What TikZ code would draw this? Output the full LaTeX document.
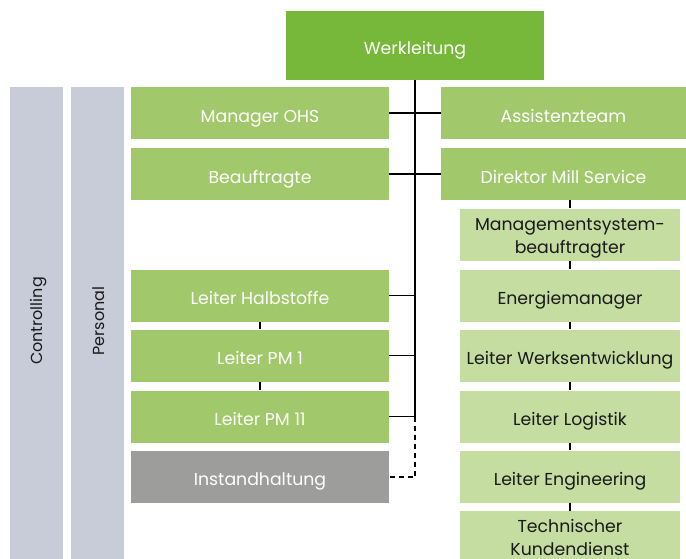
\documentclass[tikz,border=0pt]{standalone}
\usepackage{fontspec}
\setmainfont{Poppins}
\definecolor{topgreen}{HTML}{77B739}
\definecolor{midgreen}{HTML}{A1C96B}
\definecolor{palegreen}{HTML}{C5DDA1}
\definecolor{greybox}{HTML}{9D9D9B}
\definecolor{staffcol}{HTML}{C8CCD9}
\definecolor{inktext}{HTML}{1A1A1A}
\tikzset{
  orgbox/.style={rectangle, inner sep=0pt, align=center, font=\fontsize{17.3}{22.6}\selectfont,
    text height=19pt, text depth=1pt},
  twolines/.style={text height=38pt, text depth=1pt},
  headbox/.style={orgbox, fill=topgreen, text=white, minimum width=258pt, minimum height=69pt},
  leftbox/.style={orgbox, fill=midgreen, text=white, minimum width=258pt, minimum height=52pt},
  rightbox/.style={orgbox, fill=midgreen, text=white, minimum width=245pt, minimum height=52pt},
  subbox/.style={orgbox, fill=palegreen, text=inktext, minimum width=220pt, minimum height=52pt},
  greyunit/.style={orgbox, fill=greybox, text=white, minimum width=258pt, minimum height=52pt},
  staffbar/.style={rectangle, fill=staffcol, inner sep=0pt, minimum width=53pt, minimum height=480pt},
  stafftext/.style={text=inktext, rotate=90, font=\fontsize{16}{18}\selectfont},
  link/.style={line width=1.2pt, black},
  dashlink/.style={line width=1.2pt, black, dash pattern=on 5pt off 4pt}
}
\begin{document}
\begin{tikzpicture}[x=1pt,y=-1pt]
\useasboundingbox (0,0) rectangle (686,558);
\clip (0,0) rectangle (686,558);

% staff columns on the left
\node[staffbar] (ctrlbar) at (36.5,327) {};
\node[staffbar] (persbar) at (97.5,327) {};
\node[stafftext] (ctrltext) at (39,321) {Controlling};
\node[stafftext] (perstext) at (99,321) {Personal};

% head of the plant
\node[headbox] (werk) at (415,45.5) {Werkleitung};

% left branch
\node[leftbox] (ohs) at (260,113) {Manager OHS};
\node[leftbox] (beauf) at (260,174) {Beauftragte};
\node[leftbox] (halb) at (260,295.5) {Leiter Halbstoffe};
\node[leftbox] (pm1) at (260,355.5) {Leiter PM 1};
\node[leftbox] (pm11) at (260,416.5) {Leiter PM 11};
\node[greyunit] (inst) at (260,476.5) {Instandhaltung};

% right branch
\node[rightbox] (assist) at (563.5,113) {Assistenzteam};
\node[rightbox] (dms) at (563.5,174) {Direktor Mill Service};
\node[subbox, twolines] (mgmt) at (570,234.5) {Managementsystem-\\beauftragter};
\node[subbox] (energie) at (570,295.5) {Energiemanager};
\node[subbox] (werksent) at (570,355.5) {Leiter Werksentwicklung};
\node[subbox] (logistik) at (570,416.5) {Leiter Logistik};
\node[subbox] (engin) at (570,476.5) {Leiter Engineering};
\node[subbox, twolines] (techkd) at (570,537) {Technischer\\Kundendienst};

% spine below the head
\coordinate (spinesolid) at (415,416.5);
\coordinate (spinecorner) at (415,477);
\draw[link] (werk.south) -- (spinesolid);
\draw[dashlink] (spinesolid) -- (spinecorner) -- (inst.east |- spinecorner);

% branches off the spine
\draw[link] (ohs.east) -- (assist.west);
\draw[link] (beauf.east) -- (dms.west);
\draw[link] (halb.east) -- (halb.east -| werk.south);
\draw[link] (pm1.east) -- (pm1.east -| werk.south);
\draw[link] (pm11.east) -- (pm11.east -| werk.south);

% chain of the production units
\draw[link] (halb.south) -- (pm1.north);
\draw[link] (pm1.south) -- (pm11.north);

% chain under Direktor Mill Service
\draw[link] (dms.south -| mgmt.north) -- (mgmt.north);
\draw[link] (mgmt.south) -- (energie.north);
\draw[link] (energie.south) -- (werksent.north);
\draw[link] (werksent.south) -- (logistik.north);
\draw[link] (logistik.south) -- (engin.north);
\draw[link] (engin.south) -- (techkd.north);
\end{tikzpicture}
\end{document}
